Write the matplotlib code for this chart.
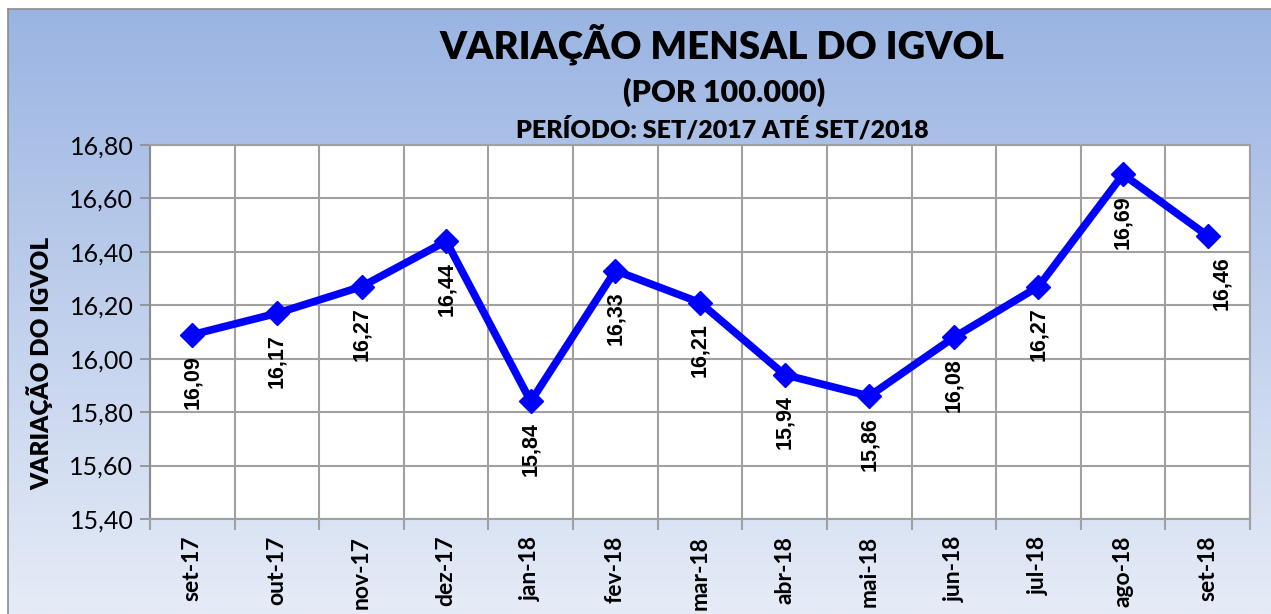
import numpy as np
import matplotlib
matplotlib.use("Agg")
import matplotlib.pyplot as plt
from matplotlib.ticker import FixedLocator, FuncFormatter

months = ["set-17", "out-17", "nov-17", "dez-17", "jan-18", "fev-18", "mar-18",
          "abr-18", "mai-18", "jun-18", "jul-18", "ago-18", "set-18"]
values = [16.09, 16.17, 16.27, 16.44, 15.84, 16.33, 16.21,
          15.94, 15.86, 16.08, 16.27, 16.69, 16.46]
yticks = [15.40, 15.60, 15.80, 16.00, 16.20, 16.40, 16.60, 16.80]
title = "VARIAÇÃO MENSAL DO IGVOL"
subtitle = "(POR 100.000)"
period = "PERÍODO: SET/2017 ATÉ SET/2018"
ylabel = "VARIAÇÃO DO IGVOL"

W, H = 1271, 614
fig = plt.figure(figsize=(W / 100, H / 100), dpi=100)
fig.patch.set_facecolor("white")

# gradient background
bg = fig.add_axes([8 / W, 0, 1 - 8 / W, 1 - 9 / H], zorder=0)
grad = np.linspace(0, 1, 256).reshape(-1, 1)
top = np.array([0x9a, 0xb4, 0xe2]) / 255
bot = np.array([0xe6, 0xec, 0xf7]) / 255
img = top[None, None, :] * (1 - grad[:, :, None]) + bot[None, None, :] * grad[:, :, None]
bg.imshow(img, aspect="auto", extent=[0, 1, 0, 1], origin="upper")
bg.set_xticks([]); bg.set_yticks([])
for s in bg.spines.values():
    s.set_edgecolor("#8c8c8c"); s.set_linewidth(1.2)
bg.spines["right"].set_visible(False)
bg.spines["bottom"].set_visible(False)

ax = fig.add_axes([150 / W, 1 - 519 / H, 1100 / W, (519 - 145) / H], zorder=1)
ax.set_facecolor("white")
x = np.arange(len(months))
ax.set_xlim(-0.5, len(months) - 0.5)
ax.set_ylim(15.40, 16.80)

ax.plot(x, values, color="#0000ff", lw=5.5, marker="D", markersize=12.5,
        markeredgecolor="#0000ff", solid_joinstyle="miter", zorder=3, clip_on=False)

for i, (xi, v) in enumerate(zip(x, values)):
    dx = 10 if i == len(values) - 1 else 0
    ax.annotate(f"{v:.2f}".replace(".", ","), (xi, v), xytext=(dx, -15),
                textcoords="offset points", rotation=90, ha="center", va="top",
                fontsize=15.5, fontweight="bold", family="Liberation Sans", color="black",
                zorder=4)

# grid
ax.yaxis.set_major_locator(FixedLocator(yticks))
ax.yaxis.set_major_formatter(FuncFormatter(lambda v, p: f"{v:.2f}".replace(".", ",")))
ax.set_xticks(x)
ax.set_xticklabels(months, rotation=90, fontsize=16.5, fontweight="bold", family="Lato")
ax.set_xticks(np.arange(-0.5, len(months)), minor=True)
ax.tick_params(axis="x", which="major", length=0, pad=12)
ax.tick_params(axis="x", which="minor", length=8, width=1.5, color="#a0a0a0")
ax.tick_params(axis="y", length=7, width=1.2, color="#8c8c8c", labelsize=18, pad=5)
for lab in ax.get_yticklabels():
    lab.set_family("Lato")
ax.grid(True, which="major", axis="y", color="#a0a0a0", lw=1.5, zorder=0)
ax.grid(True, which="minor", axis="x", color="#a0a0a0", lw=1.5, zorder=0)
for s in ax.spines.values():
    s.set_edgecolor("#a0a0a0"); s.set_linewidth(1.5)
ax.spines["left"].set_edgecolor("#8c8c8c")
ax.set_axisbelow(True)

fig.text(722 / W, 1 - 44 / H, title, ha="center", va="center", fontsize=27.5,
         fontweight="heavy", family="Lato")
fig.text(724 / W, 1 - 92 / H, subtitle, ha="center", va="center", fontsize=22,
         fontweight="heavy", family="Lato")
fig.text(722 / W, 1 - 129 / H, period, ha="center", va="center", fontsize=18,
         fontweight="heavy", family="Lato")
fig.text(40 / W, 1 - 363 / H, ylabel, rotation=90, ha="center", va="center",
         fontsize=17.5, fontweight="heavy", family="Lato")

fig.savefig("out.png", dpi=100)
